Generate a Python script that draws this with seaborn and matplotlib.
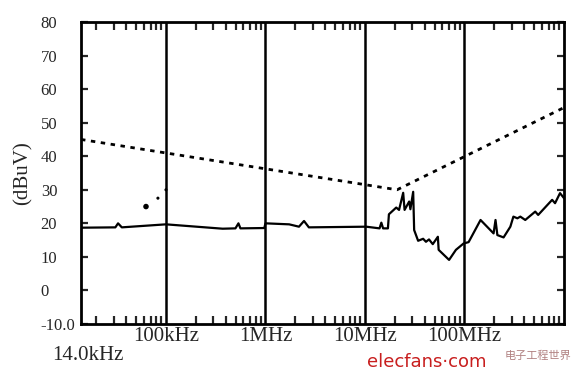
import numpy as np
import pandas as pd
import matplotlib
matplotlib.use("Agg")
import matplotlib.pyplot as plt
import seaborn as sns
from matplotlib.ticker import FixedLocator, NullFormatter

# ---- data ----
limit_freq_hz = [14e3, 21e6, 1e9]
limit_dbuv = [45.0, 30.0, 54.5]

meas_freq_hz = [14e3, 31e3, 33e3, 36e3, 100e3, 371e3, 499e3, 535e3, 560e3, 973e3,
                1.0e6, 1.73e6, 2.17e6, 2.44e6, 2.73e6, 10.3e6, 14.0e6, 14.6e6, 15.2e6,
                17.0e6, 17.4e6, 20.6e6, 22e6, 24.2e6, 25.0e6, 27.8e6, 28.6e6, 30.5e6,
                31.2e6, 34.2e6, 38.4e6, 41e6, 44e6, 48e6, 54e6, 55e6, 70e6, 82e6,
                98e6, 110e6, 145e6, 196e6, 205e6, 214e6, 247e6, 289e6, 310e6, 340e6,
                364e6, 408e6, 514e6, 550e6, 760e6, 813e6, 912e6, 1e9]
meas_dbuv = [18.7, 18.8, 20.0, 18.8, 19.7, 18.4, 18.5, 20.0, 18.5, 18.6,
             20.0, 19.7, 19.0, 20.7, 18.8, 19.0, 18.5, 20.2, 18.5,
             18.5, 22.7, 24.7, 24.0, 29.1, 24.0, 26.5, 24.2, 29.4,
             18.0, 14.8, 15.4, 14.5, 15.2, 13.8, 16.0, 12.1, 9.1, 12.1,
             14.0, 14.4, 21.0, 17.0, 21.0, 16.5, 15.8, 19.0, 22.0, 21.5,
             22.0, 21.0, 23.5, 22.5, 27.0, 26.0, 29.0, 27.5]

stray_freq_hz = [63e3, 83e3, 100e3]
stray_dbuv = [25.0, 27.5, 30.0]

x_major = [1e5, 1e6, 1e7, 1e8]
x_major_labels = ["100kHz", "1MHz", "10MHz", "100MHz"]
y_ticks = [-10, 0, 10, 20, 30, 40, 50, 60, 70, 80]
y_tick_labels = ["-10.0", "0", "10", "20", "30", "40", "50", "60", "70", "80"]
x_start_label = "14.0kHz"
y_label = "(dBuV)"

limit_df = pd.DataFrame({"f": limit_freq_hz, "v": limit_dbuv})
meas_df = pd.DataFrame({"f": meas_freq_hz, "v": meas_dbuv})
stray_df = pd.DataFrame({"f": stray_freq_hz, "v": stray_dbuv})

# ---- style ----
sns.set_style("white")
plt.rcParams["font.family"] = ["Liberation Serif", "DejaVu Serif"]

fig = plt.figure(figsize=(5.8, 3.84), dpi=100)
ax = fig.add_axes([81 / 580, 60 / 384, (564 - 81) / 580, (324 - 22) / 384])

sns.lineplot(data=limit_df, x="f", y="v", ax=ax, color="black", lw=2.0,
             linestyle=(0, (1.6, 2.0)), estimator=None, sort=False)
sns.lineplot(data=meas_df, x="f", y="v", ax=ax, color="black", lw=1.6,
             estimator=None, sort=False)
sns.scatterplot(data=stray_df, x="f", y="v", ax=ax, color="black",
                s=[16, 5, 5], edgecolor="none", legend=False)

ax.set_xscale("log")
ax.set_xlim(14e3, 1e9)
ax.set_ylim(-10, 80)

for xm in x_major:
    ax.axvline(xm, color="black", lw=1.8, zorder=1)

minors = []
for dec in [1e4, 1e5, 1e6, 1e7, 1e8]:
    for m in range(2, 10):
        v = dec * m
        if 14e3 < v < 1e9:
            minors.append(v)
ax.xaxis.set_minor_locator(FixedLocator(minors))
ax.xaxis.set_minor_formatter(NullFormatter())
ax.set_xticks(x_major)
ax.set_xticklabels(x_major_labels, fontsize=15)
ax.tick_params(axis="x", which="major", direction="in", length=0, pad=2,
               top=True, bottom=True)
ax.tick_params(axis="x", which="minor", direction="in", length=5.5, width=1.6,
               top=True, bottom=True)

ax.set_yticks(y_ticks)
ax.set_yticklabels(y_tick_labels, fontsize=12, ha="left")
ax.tick_params(axis="y", which="major", direction="in", length=5, width=1.6,
               left=True, right=True, pad=29)

ax.set_xlabel("")
ax.set_ylabel(y_label, fontsize=15)
ax.yaxis.set_label_coords(-0.1, 0.5)

for s in ax.spines.values():
    s.set_linewidth(2.0)
    s.set_color("black")

fig.text(88 / 580, 1 - 355 / 384, x_start_label, ha="center", va="center",
         fontsize=15)
fig.text(427 / 580, 1 - 362 / 384, "elecfans·com", ha="center", va="center",
         fontsize=13, color="#c81e1e", family=["DejaVu Sans"])
fig.text(538 / 580, 1 - 356 / 384, "电子工程世界", ha="center", va="center",
         fontsize=8, color="#b08080", family=["Noto Sans CJK SC", "DejaVu Sans"])

fig.savefig("out.png", dpi=100)
